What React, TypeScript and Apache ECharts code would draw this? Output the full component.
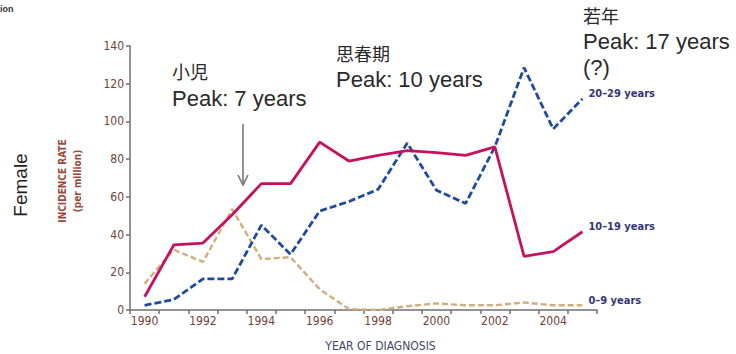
import React, { useEffect, useRef } from "react";
import * as echarts from "echarts";

const years = ["1990","1991","1992","1993","1994","1995","1996","1997","1998","1999","2000","2001","2002","2003","2004","2005"];
const age0to9 = [14, 32, 25.5, 53.5, 27, 28, 11, 0.5, 0, 2, 3.5, 2.5, 2.5, 4, 2.5, 2.5];
const age10to19 = [7, 34.5, 35.5, 50.5, 67, 67, 89, 79, 82, 84.5, 83.5, 82, 86.5, 28.5, 31, 41.5];
const age20to29 = [2.5, 5.5, 16.5, 16.5, 45, 29.5, 52.5, 57.5, 64, 88.5, 63.5, 56.5, 86.5, 128.5, 96, 112];
const seriesNames = ["0–9 years", "10–19 years", "20–29 years"];

const annFont = "'Liberation Sans', Arial, 'Noto Sans CJK JP', sans-serif";
const cjkFont = "'Noto Sans CJK JP', 'Noto Sans CJK SC', sans-serif";
const smallFont = "'Liberation Sans Narrow', 'DejaVu Sans Condensed', 'Liberation Sans', sans-serif";
const labelColor = "#74403a";
const seriesLabelColor = "#34357a";

export default function App() {
  const ref = useRef<HTMLDivElement>(null);
  useEffect(() => {
    if (!ref.current) return;
    const chart = echarts.init(ref.current, undefined, { renderer: "svg" });
    const endLabel = (color: string) => ({
      show: true,
      formatter: "{a}",
      color,
      fontSize: 11,
      fontWeight: "bold",
      fontFamily: smallFont,
      offset: [2, -5],
      distance: 4,
    });
    chart.setOption({
      animation: false,
      backgroundColor: "#ffffff",
      grid: { left: 130, right: 139, top: 46, bottom: 44, containLabel: false, outerBoundsMode: "none" },
      xAxis: {
        type: "category",
        data: years,
        boundaryGap: true,
        axisLine: { lineStyle: { color: "#6f6f6f", width: 1.5 } },
        axisTick: { show: true, interval: 0, length: 4, inside: false, lineStyle: { color: "#6f6f6f", width: 1.5 } },
        axisLabel: { interval: 1, color: labelColor, fontSize: 12, fontFamily: smallFont, margin: 5 },
        name: "YEAR OF DIAGNOSIS",
        nameLocation: "middle",
        nameGap: 30,
        nameTextStyle: { color: "#3d4866", fontSize: 12, fontFamily: smallFont, padding: [0, 0, 0, 34] },
      },
      yAxis: {
        type: "value",
        min: 0,
        max: 140,
        interval: 20,
        splitLine: { show: false },
        axisLine: { show: true, lineStyle: { color: "#6f6f6f", width: 1.5 } },
        axisTick: { show: true, length: 4, lineStyle: { color: "#6f6f6f", width: 1.5 } },
        axisLabel: { color: labelColor, fontSize: 12, fontFamily: smallFont, margin: 6 },
      },
      series: [
        {
          name: seriesNames[0],
          type: "line",
          data: age0to9,
          symbol: "none",
          lineStyle: { color: "#d4ad7c", width: 2.4, type: [6, 3] },
          endLabel: endLabel(seriesLabelColor),
          z: 1,
        },
        {
          name: seriesNames[2],
          type: "line",
          data: age20to29,
          symbol: "none",
          lineStyle: { color: "#1f4aa0", width: 2.8, type: [7, 3] },
          endLabel: endLabel(seriesLabelColor),
          z: 2,
        },
        {
          name: seriesNames[1],
          type: "line",
          data: age10to19,
          symbol: "none",
          lineStyle: { color: "#c8115e", width: 2.8 },
          endLabel: endLabel(seriesLabelColor),
          z: 3,
        },
      ],
      graphic: [
        { type: "text", left: 0, top: 4, style: { text: "ion", font: "bold 9px 'Liberation Sans', Arial, sans-serif", fill: "#333" } },
        { type: "text", x: 20, y: 185, rotation: Math.PI / 2, style: { text: "Female", font: `19px ${annFont}`, fill: "#222", align: "center", verticalAlign: "middle" } },
        { type: "text", x: 62, y: 181, rotation: Math.PI / 2, style: { text: "INCIDENCE RATE", font: `bold 10px ${smallFont}`, fill: "#9a4a3a", align: "center", verticalAlign: "middle" } },
        { type: "text", x: 77, y: 181, rotation: Math.PI / 2, style: { text: "(per million)", font: `bold 10px ${smallFont}`, fill: "#9a4a3a", align: "center", verticalAlign: "middle" } },
        { type: "text", left: 172, top: 62, style: { text: "小児", font: `18px ${cjkFont}`, fill: "#2a2a2a" } },
        { type: "text", left: 172, top: 87, style: { text: "Peak: 7 years", font: `22px ${annFont}`, fill: "#2a2a2a" } },
        { type: "text", left: 336, top: 44, style: { text: "思春期", font: `18px ${cjkFont}`, fill: "#2a2a2a" } },
        { type: "text", left: 336, top: 68, style: { text: "Peak: 10 years", font: `22px ${annFont}`, fill: "#2a2a2a" } },
        { type: "text", left: 583, top: 6, style: { text: "若年", font: `18px ${cjkFont}`, fill: "#2a2a2a" } },
        { type: "text", left: 583, top: 30, style: { text: "Peak: 17 years", font: `22px ${annFont}`, fill: "#2a2a2a" } },
        { type: "text", left: 583, top: 56, style: { text: "(?)", font: `22px ${annFont}`, fill: "#2a2a2a" } },
        { type: "line", shape: { x1: 243, y1: 124, x2: 243, y2: 185 }, style: { stroke: "#777", lineWidth: 1.6 } },
        { type: "polyline", shape: { points: [[238, 175], [243, 185], [248, 175]] }, style: { stroke: "#777", lineWidth: 1.6, fill: "none" } },
      ],
    });
    return () => chart.dispose();
  }, []);
  return <div ref={ref} style={{ width: 736, height: 354, position: "absolute", left: 0, top: 0 }} />;
}
